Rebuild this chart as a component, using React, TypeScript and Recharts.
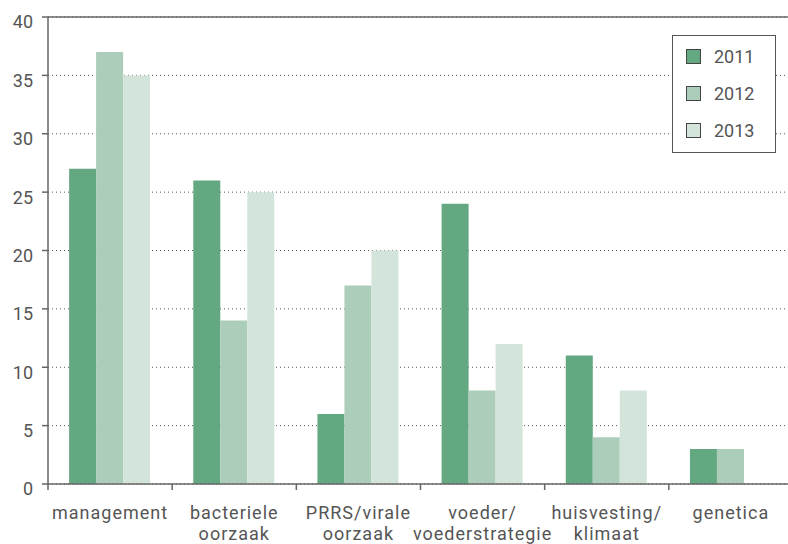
import { BarChart, Bar, XAxis, YAxis, CartesianGrid, Legend, ReferenceLine } from "recharts";

const categories = [
  "management",
  "bacteriele\noorzaak",
  "PRRS/virale\noorzaak",
  "voeder/\nvoederstrategie",
  "huisvesting/\nklimaat",
  "genetica",
];
const values2011 = [27, 26, 6, 24, 11, 3];
const values2012 = [37, 14, 17, 8, 4, 3];
const values2013 = [35, 25, 20, 12, 8, 0];
const yTicks = [0, 5, 10, 15, 20, 25, 30, 35, 40];

const series = [
  { key: "y2011", name: "2011", color: "#64a882" },
  { key: "y2012", name: "2012", color: "#abcdb9" },
  { key: "y2013", name: "2013", color: "#d3e5da" },
];

const data = categories.map((c, i) => ({
  name: c,
  y2011: values2011[i],
  y2012: values2012[i],
  y2013: values2013[i],
}));

const FONT = "Roboto, 'DejaVu Sans', sans-serif";
const TEXT = "#555";

// category label on two lines, plus a tick mark on the left edge of each band
function CategoryTick(props: any) {
  const { x, y, payload, width, visibleTicksCount } = props;
  const band = width / visibleTicksCount;
  const lines = String(payload.value).split("\n");
  return (
    <g>
      <line x1={x - band / 2} x2={x - band / 2} y1={y - 8} y2={y - 2} stroke="#666" strokeWidth={1.5} />
      <text x={x} y={y} textAnchor="middle" fill={TEXT} fontFamily={FONT} fontSize={18} letterSpacing={1}>
        {lines.map((l, i) => (
          <tspan key={i} x={x} dy={i === 0 ? 27 : 21}>
            {l}
          </tspan>
        ))}
      </text>
    </g>
  );
}

function LegendBox() {
  return (
    <div
      style={{
        boxSizing: "border-box",
        width: 104,
        height: 118,
        border: "1.5px solid #555",
        background: "#fff",
        padding: "2px 0 0 13px",
        fontFamily: FONT,
        fontSize: 18,
        color: TEXT,
      }}
    >
      {series.map((s) => (
        <div key={s.key} style={{ display: "flex", alignItems: "center", height: 37 }}>
          <span
            style={{
              display: "inline-block",
              width: 13,
              height: 13,
              background: s.color,
              border: "1px solid #444",
              marginRight: 13,
            }}
          />
          <span>{s.name}</span>
        </div>
      ))}
    </div>
  );
}

export default function App() {
  return (
    <div style={{ position: "absolute", left: 0, top: 0, width: 788, height: 544, overflow: "hidden", background: "#fff" }}>
      <BarChart
        width={793}
        height={544}
        data={data}
        margin={{ top: 17, right: 0, bottom: 0, left: 0 }}
        barCategoryGap="17%"
        barGap={0}
      >
        <CartesianGrid vertical={false} stroke="#555" strokeDasharray="1 3" />
        <XAxis
          dataKey="name"
          height={60}
          interval={0}
          axisLine={{ stroke: "#666", strokeWidth: 1.5 }}
          tickLine={false}
          tick={<CategoryTick />}
        />
        <YAxis
          width={48}
          domain={[0, 40]}
          ticks={yTicks}
          tickSize={6}
          axisLine={{ stroke: "#666", strokeWidth: 1.5 }}
          tickLine={{ stroke: "#666", strokeWidth: 1.5 }}
          tick={{ fill: TEXT, fontFamily: FONT, fontSize: 18, dy: 5 }}
          tickMargin={9}
        />
        <ReferenceLine y={40} stroke="#666" strokeWidth={1.5} />
        <Legend
          layout="vertical"
          align="center"
          verticalAlign="middle"
          wrapperStyle={{ left: 672, top: 35, width: 104, height: 118 }}
          content={() => <LegendBox />}
        />
        {series.map((s) => (
          <Bar key={s.key} dataKey={s.key} name={s.name} fill={s.color} isAnimationActive={false} />
        ))}
      </BarChart>
    </div>
  );
}
